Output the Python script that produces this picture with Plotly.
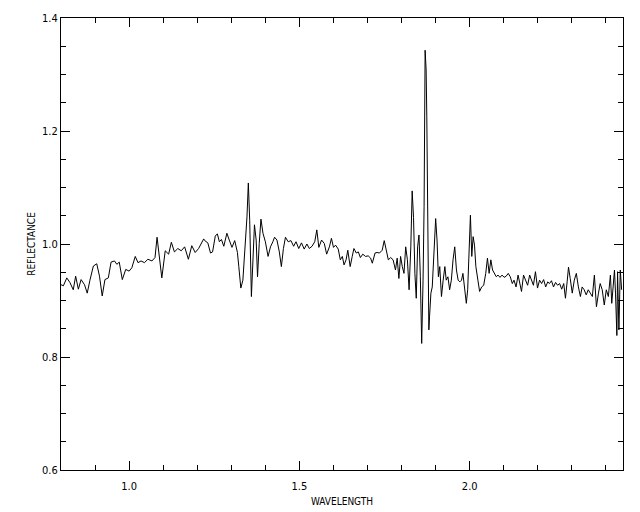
import plotly.graph_objects as go

# ---- data (wavelength in microns, reflectance) ----
wl_seg1 = [0.800, 0.807, 0.817, 0.826, 0.836, 0.843, 0.851, 0.859, 0.869, 0.877,
           0.885, 0.895, 0.905, 0.913, 0.921, 0.929, 0.939, 0.947, 0.957, 0.964,
           0.971, 0.980, 0.990, 1.000, 1.008, 1.018, 1.026, 1.035, 1.045, 1.055,
           1.067, 1.076, 1.082, 1.088, 1.096, 1.106, 1.116, 1.124, 1.133, 1.143,
           1.153, 1.163, 1.174, 1.184, 1.194, 1.204, 1.219]
rf_seg1 = [0.928, 0.926, 0.940, 0.932, 0.919, 0.943, 0.920, 0.937, 0.928, 0.913,
           0.936, 0.961, 0.965, 0.943, 0.908, 0.937, 0.940, 0.968, 0.970, 0.964,
           0.968, 0.937, 0.955, 0.952, 0.958, 0.978, 0.967, 0.970, 0.967, 0.973,
           0.970, 0.976, 1.012, 0.979, 0.940, 0.988, 0.982, 1.003, 0.986, 0.992,
           0.988, 0.995, 0.973, 0.997, 0.985, 0.992, 1.009]

wl_seg2 = [1.222, 1.231, 1.239, 1.245, 1.253, 1.259, 1.265, 1.271, 1.278, 1.287,
           1.294, 1.302, 1.310, 1.318, 1.322, 1.328, 1.334, 1.341, 1.346, 1.350,
           1.354, 1.359, 1.363, 1.368, 1.373, 1.377, 1.382, 1.387, 1.393, 1.400,
           1.408, 1.415, 1.422, 1.427, 1.434, 1.441, 1.447, 1.453, 1.459, 1.467,
           1.475, 1.483, 1.490, 1.498, 1.506, 1.514, 1.522, 1.529, 1.537, 1.545,
           1.551, 1.557, 1.565, 1.573, 1.580, 1.588, 1.594, 1.600, 1.606, 1.614,
           1.620, 1.626, 1.631]
rf_seg2 = [1.006, 1.002, 0.984, 0.986, 1.014, 1.018, 1.004, 1.008, 0.996, 1.019,
           1.007, 0.994, 1.006, 0.985, 0.960, 0.922, 0.936, 1.001, 1.048, 1.108,
           1.042, 0.907, 0.972, 1.034, 1.007, 0.942, 1.001, 1.044, 1.019, 1.004,
           0.978, 0.995, 1.004, 1.012, 1.007, 0.986, 0.960, 0.992, 1.012, 1.004,
           1.006, 0.996, 1.004, 0.992, 1.002, 0.991, 1.000, 0.992, 0.996, 1.004,
           1.025, 0.994, 1.007, 1.001, 0.982, 0.995, 1.010, 0.994, 0.998, 0.991,
           0.972, 0.978, 0.963]

wl_seg3 = [1.637, 1.642, 1.649, 1.655, 1.660, 1.667, 1.673, 1.679, 1.686, 1.694,
           1.702, 1.709, 1.714, 1.722, 1.728, 1.735, 1.743, 1.749, 1.755, 1.761,
           1.768, 1.775]
rf_seg3 = [0.972, 0.989, 0.960, 0.978, 0.992, 0.984, 0.986, 0.976, 0.982, 0.978,
           0.979, 0.975, 0.966, 0.984, 0.985, 0.984, 0.989, 1.006, 0.989, 0.972,
           0.976, 0.972]

wl_seg4 = [1.782, 1.787, 1.792, 1.797, 1.802, 1.807, 1.812, 1.817, 1.822, 1.827,
           1.831, 1.835, 1.839, 1.843, 1.847, 1.851, 1.855, 1.859, 1.863, 1.866,
           1.869, 1.872, 1.874, 1.877, 1.880, 1.882, 1.886, 1.890, 1.895, 1.900,
           1.904, 1.908, 1.912, 1.917, 1.922, 1.927, 1.931, 1.936, 1.941, 1.946,
           1.951, 1.956, 1.961, 1.966, 1.971, 1.976, 1.980, 1.985, 1.990, 1.994,
           1.998, 2.002, 2.006, 2.010, 2.014, 2.018, 2.024, 2.029, 2.035, 2.041,
           2.047, 2.052, 2.057, 2.062, 2.067, 2.073]
rf_seg4 = [0.954, 0.975, 0.939, 0.978, 0.960, 0.948, 0.995, 0.972, 0.919, 0.995,
           1.094, 1.047, 0.948, 0.904, 0.995, 1.016, 0.942, 0.824, 0.936, 1.066,
           1.343, 1.308, 1.225, 1.007, 0.848, 0.871, 0.913, 0.924, 0.995, 1.045,
           1.007, 0.942, 0.960, 0.907, 0.936, 0.960, 0.936, 0.942, 0.919, 0.936,
           0.972, 0.995, 0.954, 0.936, 0.933, 0.936, 0.948, 0.924, 0.895, 0.919,
           1.007, 1.051, 0.978, 1.013, 0.998, 0.960, 0.936, 0.916, 0.924, 0.927,
           0.948, 0.975, 0.948, 0.972, 0.954, 0.948]

wl_seg5 = [2.078, 2.083, 2.089, 2.095, 2.101, 2.107, 2.113, 2.119, 2.125, 2.130,
           2.136, 2.142, 2.148, 2.152, 2.158, 2.164, 2.170, 2.176, 2.181, 2.187,
           2.193, 2.199, 2.205, 2.211, 2.217, 2.223, 2.229, 2.234, 2.240, 2.246,
           2.252, 2.258, 2.264, 2.270, 2.276, 2.281, 2.286, 2.290, 2.295, 2.301,
           2.307, 2.313, 2.319, 2.325, 2.330, 2.336, 2.342, 2.348, 2.354, 2.360,
           2.366, 2.372, 2.378, 2.383, 2.389, 2.395, 2.401, 2.407, 2.413, 2.417,
           2.421, 2.425, 2.428, 2.432, 2.434, 2.438, 2.442, 2.446]
rf_seg5 = [0.942, 0.945, 0.941, 0.945, 0.941, 0.943, 0.948, 0.942, 0.930, 0.936,
           0.924, 0.945, 0.930, 0.916, 0.945, 0.936, 0.927, 0.945, 0.937, 0.927,
           0.951, 0.922, 0.936, 0.930, 0.937, 0.924, 0.933, 0.930, 0.935, 0.924,
           0.932, 0.927, 0.930, 0.920, 0.930, 0.904, 0.933, 0.959, 0.939, 0.913,
           0.936, 0.948, 0.924, 0.907, 0.924, 0.919, 0.910, 0.919, 0.913, 0.907,
           0.945, 0.889, 0.913, 0.930, 0.919, 0.892, 0.919, 0.907, 0.945, 0.895,
           0.924, 0.954, 0.913, 0.838, 0.951, 0.848, 0.954, 0.919]

wavelength = wl_seg1 + wl_seg2 + wl_seg3 + wl_seg4 + wl_seg5
reflectance = rf_seg1 + rf_seg2 + rf_seg3 + rf_seg4 + rf_seg5

x_ticks = [1.0, 1.5, 2.0]
x_ticklabels = ["1.0", "1.5", "2.0"]
y_ticks = [0.6, 0.8, 1.0, 1.2, 1.4]
y_ticklabels = ["0.6", "0.8", "1.0", "1.2", "1.4"]

FONT = "Liberation Sans Narrow, Arial Narrow, DejaVu Sans Condensed, sans-serif"

fig = go.Figure()
fig.add_trace(go.Scatter(x=wavelength, y=reflectance, mode="lines",
                         line=dict(color="black", width=1), showlegend=False,
                         cliponaxis=True))

axis_common = dict(showgrid=False, zeroline=False, showline=True, linecolor="black",
                   linewidth=1, mirror="allticks", ticks="inside", ticklen=9,
                   tickcolor="black", tickwidth=1,
                   tickfont=dict(family=FONT, size=11, color="black"))

fig.update_xaxes(range=[0.8, 2.45], tickvals=x_ticks, ticktext=x_ticklabels,
                 ticklabelstandoff=6,
                 minor=dict(ticks="inside", ticklen=5, dtick=0.1, tick0=0.8,
                            tickcolor="black", tickwidth=1, showgrid=False),
                 title=dict(text="WAVELENGTH", standoff=5,
                            font=dict(family=FONT, size=10, color="black")),
                 **axis_common)
fig.update_yaxes(range=[0.6, 1.4], tickvals=y_ticks, ticktext=y_ticklabels,
                 minor=dict(ticks="inside", ticklen=5, dtick=0.05, tick0=0.6,
                            tickcolor="black", tickwidth=1, showgrid=False),
                 title=dict(text="REFLECTANCE", standoff=4,
                            font=dict(family=FONT, size=10, color="black")),
                 **axis_common)

# page body adds an 8px offset, so the figure is sized/margined to compensate
fig.update_layout(width=632, height=504, paper_bgcolor="white", plot_bgcolor="white",
                  margin=dict(l=53, r=17, t=10, b=42, autoexpand=False),
                  showlegend=False)

fig.write_html("out.html")
